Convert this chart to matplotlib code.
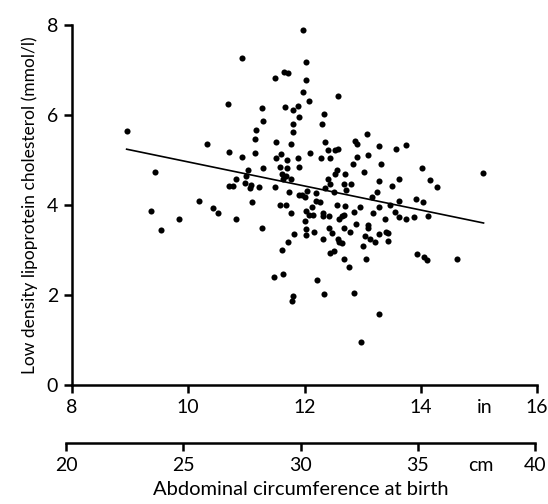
import matplotlib
matplotlib.use('Agg')
import matplotlib.pyplot as plt
import matplotlib.transforms as mtransforms

plt.rcParams['font.family'] = ['Lato', 'DejaVu Sans']

# abdominal circumference at birth (inches) and LDL cholesterol (mmol/l)
circ_in = [10.92, 8.95, 10.69, 11.49, 11.65, 11.72, 11.27, 11.67, 11.80, 11.88,
           11.28, 11.80, 11.16, 11.81, 11.91, 11.15, 10.32, 11.51, 11.77, 10.70,
           10.93, 11.15, 11.51, 11.60, 11.70, 11.89, 9.42, 11.03, 11.28, 11.57,
           11.70, 11.90, 11.00, 11.62, 11.68, 11.77, 11.63, 10.83, 10.70, 10.77,
           10.98, 11.08, 11.06, 11.21, 11.49, 11.73, 11.90, 10.18, 11.10, 9.36,
           10.43, 10.51, 11.58, 11.69, 11.77, 9.84, 10.83, 9.53, 11.27, 11.82,
           11.71, 11.61, 11.48, 11.63, 11.80, 11.78, 11.98, 12.02, 12.02, 11.98,
           12.58, 12.08, 12.33, 12.30, 13.08, 12.36, 12.87, 12.91, 13.28, 13.75,
           13.58, 12.41, 12.53, 12.58, 12.10, 12.28, 12.44, 12.90, 13.09, 12.84,
           13.31, 14.02, 12.56, 12.53, 13.03, 12.70, 15.07, 12.41, 13.63, 14.16,
           13.29, 12.44, 12.68, 12.80, 13.51, 14.28, 12.36, 12.71, 13.24, 12.05,
           11.96, 12.00, 12.19, 12.50, 13.16, 13.62, 13.91, 14.04, 12.20, 12.27,
           12.13, 12.56, 12.70, 12.95, 13.28, 13.47, 12.03, 12.08, 12.14, 12.31,
           12.31, 12.43, 12.60, 12.65, 12.68, 12.85, 13.18, 13.55, 13.63, 13.75,
           13.89, 14.12, 13.39, 12.00, 12.03, 12.03, 12.17, 12.43, 12.47, 12.68,
           12.78, 12.89, 13.09, 13.10, 13.40, 13.44, 13.28, 13.04, 13.12, 13.22,
           13.44, 12.31, 12.57, 12.60, 12.64, 13.00, 12.44, 12.50, 12.68, 13.05,
           12.76, 13.93, 14.06, 14.11, 14.63, 12.22, 12.34, 12.85, 13.29, 12.97]
ldl = [7.26, 5.65, 6.25, 6.83, 6.96, 6.93, 6.15, 6.18, 6.11, 6.20,
       5.87, 5.81, 5.67, 5.63, 5.96, 5.46, 5.36, 5.41, 5.36, 5.17,
       5.07, 5.16, 5.05, 5.14, 5.00, 5.04, 4.74, 4.78, 4.82, 4.85,
       4.83, 4.85, 4.64, 4.70, 4.64, 4.58, 4.58, 4.58, 4.43, 4.43,
       4.48, 4.44, 4.37, 4.40, 4.40, 4.28, 4.22, 4.10, 4.06, 3.87,
       3.93, 3.83, 3.99, 3.99, 3.82, 3.69, 3.70, 3.45, 3.48, 3.36,
       3.18, 2.99, 2.41, 2.46, 1.98, 1.87, 7.88, 7.18, 6.78, 6.51,
       6.42, 6.32, 6.02, 5.80, 5.58, 5.40, 5.43, 5.35, 5.31, 5.33,
       5.24, 5.22, 5.22, 5.25, 5.16, 5.04, 5.04, 5.07, 5.12, 4.91,
       4.91, 4.82, 4.78, 4.69, 4.74, 4.68, 4.72, 4.58, 4.57, 4.56,
       4.53, 4.47, 4.47, 4.47, 4.43, 4.39, 4.38, 4.33, 4.30, 4.32,
       4.23, 4.17, 4.26, 4.29, 4.18, 4.10, 4.13, 4.07, 4.08, 4.07,
       3.96, 4.01, 3.98, 3.96, 3.96, 3.99, 3.87, 3.78, 3.78, 3.83,
       3.76, 3.76, 3.70, 3.75, 3.78, 3.84, 3.82, 3.85, 3.74, 3.70,
       3.73, 3.75, 3.70, 3.64, 3.47, 3.33, 3.41, 3.50, 3.37, 3.49,
       3.39, 3.58, 3.56, 3.50, 3.41, 3.38, 3.35, 3.31, 3.24, 3.17,
       3.20, 3.24, 3.24, 3.18, 3.16, 3.09, 2.93, 2.98, 2.80, 2.81,
       2.62, 2.92, 2.85, 2.78, 2.79, 2.33, 2.02, 2.04, 1.58, 0.96]

# regression line end points
fit_x = [8.94, 15.08]
fit_y = [5.24, 3.60]

in_ticks = [8, 10, 12, 14, 16]
cm_ticks = [20, 25, 30, 35, 40]
y_ticks = [0, 2, 4, 6, 8]

W, H = 548, 504
fig = plt.figure(figsize=(W / 100, H / 100), dpi=100)

ax = fig.add_axes([72 / W, 1 - 385 / H, (537 - 72) / W, (385 - 25) / H])
ax.plot(circ_in, ldl, 'o', color='black', markersize=4.4, markeredgewidth=0)
ax.plot(fit_x, fit_y, color='black', linewidth=1.2)
ax.set_xlim(8, 16)
ax.set_ylim(0, 8)
ax.set_xticks(in_ticks)
ax.set_yticks(y_ticks)
for s in ['top', 'right']:
    ax.spines[s].set_visible(False)
for s in ['left', 'bottom']:
    ax.spines[s].set_linewidth(1.8)
ax.tick_params(width=1.8, length=6, labelsize=14, pad=4)
ax.set_ylabel('Low density lipoprotein cholesterol (mmol/l)', fontsize=12.5, labelpad=6)
tr_in = mtransforms.offset_copy(ax.get_xaxis_transform(), fig=fig, y=-10, units='points')
ax.text(15.1, 0, 'in', transform=tr_in, ha='center', va='top', fontsize=14)

# second scale in centimetres
ax2 = fig.add_axes([66 / W, 1 - 443 / H, (535 - 66) / W, 0.001])
ax2.set_xlim(20, 40)
ax2.set_xticks(cm_ticks)
ax2.set_yticks([])
for s in ['top', 'right', 'left']:
    ax2.spines[s].set_visible(False)
ax2.spines['bottom'].set_linewidth(1.8)
ax2.tick_params(axis='x', width=1.8, length=6, labelsize=14, pad=4)
ax2.patch.set_visible(False)
tr_cm = mtransforms.offset_copy(ax2.get_xaxis_transform(), fig=fig, y=-10, units='points')
ax2.text(37.7, 0, 'cm', transform=tr_cm, ha='center', va='top', fontsize=14)
ax2.set_xlabel('Abdominal circumference at birth', fontsize=14.5, labelpad=5)

fig.savefig('out.png', dpi=100)
